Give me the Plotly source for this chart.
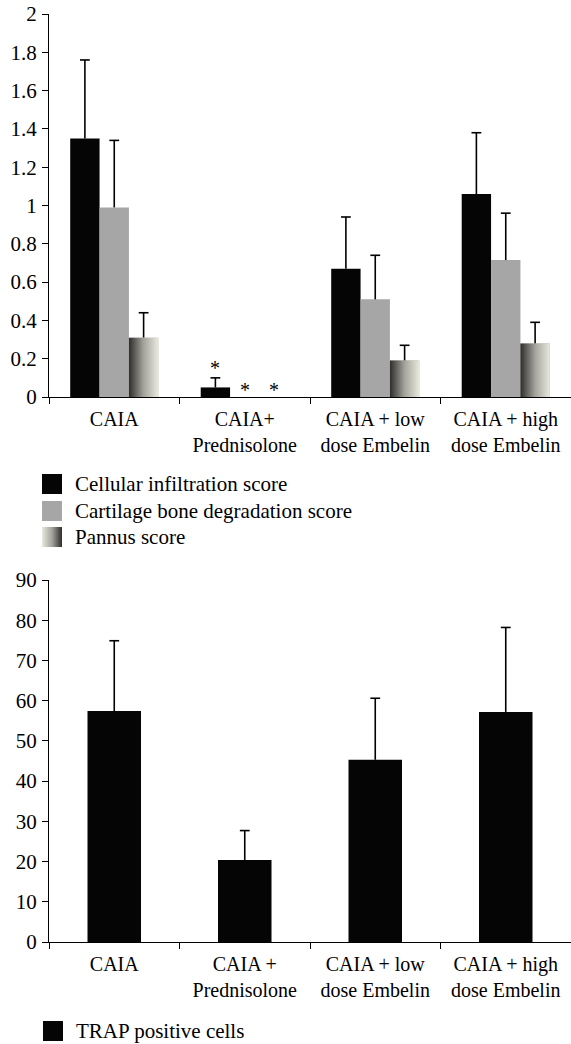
import plotly.graph_objects as go
import plotly.colors as pc

# ---------------- data ----------------
top_labels = ["CAIA", "CAIA+<br>Prednisolone", "CAIA + low<br>dose Embelin", "CAIA + high<br>dose Embelin"]
bottom_labels = ["CAIA", "CAIA +<br>Prednisolone", "CAIA + low<br>dose Embelin", "CAIA + high<br>dose Embelin"]

cellular = [1.35, 0.05, 0.67, 1.06]
cellular_err = [0.41, 0.05, 0.27, 0.32]
cartilage = [0.99, 0.0, 0.51, 0.715]
cartilage_err = [0.35, 0.0, 0.23, 0.245]
pannus = [0.31, 0.0, 0.19, 0.28]
pannus_err = [0.13, 0.0, 0.08, 0.11]

trap = [57.4, 20.4, 45.3, 57.2]
trap_err = [17.5, 7.3, 15.3, 21.0]

series_names = ["Cellular infiltration score", "Cartilage bone degradation score", "Pannus score"]
trap_name = "TRAP positive cells"

# ---------------- style ----------------
W, H = 571, 1044
FONT = "Liberation Serif, Times New Roman, DejaVu Serif, serif"
FS = 20
FS_LEG = 21
BLACK = "#050505"
GREY = "#a6a6a6"
GRAD = [[0.0, "#e9e9de"], [0.5, "#a4a39c"], [1.0, "#2f2d2b"]]
GRAD_REV = [[1 - s, c] for s, c in GRAD][::-1]
BW = 0.225       # bar width, top chart
BW2 = 0.41       # bar width, bottom chart
offsets = [-1.5 * BW, -0.5 * BW, 0.5 * BW]


def px(x):
    return x / W


def py(y):
    return 1 - y / H


xs = list(range(len(top_labels)))
fig = go.Figure()

err_style = dict(type="data", symmetric=False, color="black", thickness=1.6, width=0)
cap_marker = dict(symbol="line-ew", size=7, line=dict(width=1.6, color="black"))

vals = [cellular, cartilage, pannus]
errs = [cellular_err, cartilage_err, pannus_err]
colors = [BLACK, GREY, "#a4a39c"]
for k in range(3):
    fig.add_trace(go.Bar(
        x=xs, y=vals[k], width=BW, offset=offsets[k],
        marker=dict(color=colors[k], line=dict(width=0)),
        error_y=dict(array=errs[k], arrayminus=[0] * len(xs), **err_style),
        name=series_names[k], showlegend=False, xaxis="x", yaxis="y",
    ))

# gradient fill for pannus bars
for i, v in zip(xs, pannus):
    if v <= 0:
        continue
    x0 = i + offsets[2]
    x1 = x0 + BW
    fig.add_trace(go.Scatter(
        x=[x0, x1, x1, x0, x0], y=[0, 0, v, v, 0],
        mode="lines", line=dict(width=0, color="rgba(0,0,0,0)"),
        fill="toself", fillgradient=dict(type="horizontal", colorscale=GRAD_REV),
        hoverinfo="skip", showlegend=False, xaxis="x", yaxis="y",
    ))

# error-bar caps (top only)
for k in range(3):
    cx, cy = [], []
    for i in xs:
        if errs[k][i] > 0:
            cx.append(i + offsets[k] + BW / 2)
            cy.append(vals[k][i] + errs[k][i])
    fig.add_trace(go.Scatter(x=cx, y=cy, mode="markers", marker=cap_marker,
                             hoverinfo="skip", showlegend=False, xaxis="x", yaxis="y"))

fig.add_trace(go.Bar(
    x=xs, y=trap, width=BW2,
    marker=dict(color=BLACK, line=dict(width=0)),
    error_y=dict(array=trap_err, arrayminus=[0] * len(xs), **err_style),
    name=trap_name, showlegend=False, xaxis="x2", yaxis="y2",
))
fig.add_trace(go.Scatter(x=xs, y=[v + e for v, e in zip(trap, trap_err)], mode="markers",
                         marker=cap_marker, hoverinfo="skip", showlegend=False,
                         xaxis="x2", yaxis="y2"))

# significance asterisks (Prednisolone group)
ann = []
ann.append(dict(x=1 + offsets[0] + BW / 2, y=cellular[1] + cellular_err[1], xref="x", yref="y",
                text="*", showarrow=False, yanchor="bottom", yshift=-3,
                font=dict(family=FONT, size=FS, color="black")))
for k in (1, 2):
    ann.append(dict(x=1 + offsets[k] + BW / 2, y=vals[k][1], xref="x", yref="y",
                    text="*", showarrow=False, yanchor="bottom", yshift=-6,
                    font=dict(family=FONT, size=FS, color="black")))

# custom legends
shapes = []
leg_top = [(484, BLACK), (511, GREY), (537, None)]
for (cy, col), name in zip(leg_top, series_names):
    if col is not None:
        shapes.append(dict(type="rect", xref="paper", yref="paper",
                           x0=px(42), x1=px(62), y0=py(cy + 10), y1=py(cy - 10),
                           fillcolor=col, line=dict(width=0)))
    else:
        n = 20
        for j in range(n):
            t = (j + 0.5) / n
            c = pc.sample_colorscale(GRAD, [t])[0]
            shapes.append(dict(type="rect", xref="paper", yref="paper",
                               x0=px(42 + j), x1=px(43 + j), y0=py(cy + 10), y1=py(cy - 10),
                               fillcolor=c, line=dict(width=0)))
    ann.append(dict(x=px(72.5), y=py(cy), xref="paper", yref="paper", text=name,
                    showarrow=False, xanchor="left", yanchor="middle",
                    font=dict(family=FONT, size=FS_LEG, color="black")))

shapes.append(dict(type="rect", xref="paper", yref="paper",
                   x0=px(43), x1=px(63), y0=py(1041), y1=py(1021),
                   fillcolor=BLACK, line=dict(width=0)))
ann.append(dict(x=px(73.5), y=py(1031), xref="paper", yref="paper", text=trap_name,
                showarrow=False, xanchor="left", yanchor="middle",
                font=dict(family=FONT, size=FS_LEG, color="black")))

bounds = [i - 0.5 for i in range(len(xs) + 1)]


def xaxis_cfg(labels, ydom_anchor):
    return dict(
        domain=[px(49), 1], range=[-0.5, len(xs) - 0.5], anchor=ydom_anchor,
        tickmode="array", tickvals=xs, ticktext=labels, ticks="", ticklen=6,
        minor=dict(tickmode="array", tickvals=bounds, ticks="outside", ticklen=6,
                   tickcolor="black", tickwidth=1.3),
        showline=True, linecolor="black", linewidth=1.3, showgrid=False, zeroline=False,
        tickfont=dict(family=FONT, size=FS, color="black"), ticklabelstandoff=4,
        automargin=False, fixedrange=True,
    )


def yaxis_cfg(dom, rng, dt, anchor):
    return dict(
        domain=dom, range=rng, dtick=dt, tick0=0, anchor=anchor,
        ticks="outside", ticklen=6, tickwidth=1.3, tickcolor="black",
        showline=True, linecolor="black", linewidth=1.3, showgrid=False, zeroline=False,
        tickfont=dict(family=FONT, size=21, color="black"), ticklabelstandoff=1,
        automargin=False, fixedrange=True,
    )


fig.update_layout(
    width=W, height=H, margin=dict(l=0, r=0, t=0, b=0),
    paper_bgcolor="white", plot_bgcolor="white", barmode="overlay",
    showlegend=False,
    xaxis=xaxis_cfg(top_labels, "y"),
    yaxis=yaxis_cfg([py(397), py(14)], [0, 2], 0.2, "x"),
    xaxis2=xaxis_cfg(bottom_labels, "y2"),
    yaxis2=yaxis_cfg([py(942), py(580)], [0, 90], 10, "x2"),
    annotations=ann, shapes=shapes,
    font=dict(family=FONT, size=FS, color="black"),
)

fig.write_html("out.html", config={"displayModeBar": False},
               post_script="document.body.style.margin='0';document.body.style.overflow='hidden';")
